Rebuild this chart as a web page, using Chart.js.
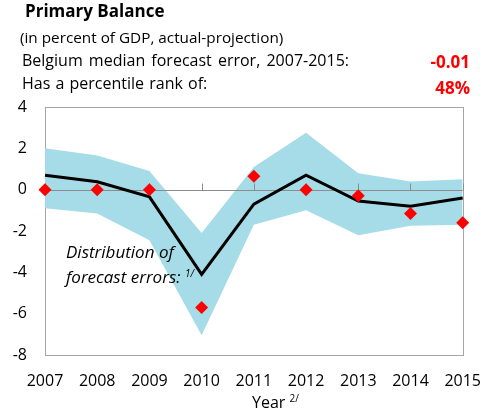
<!DOCTYPE html>
<html>
<head>
<meta charset="utf-8">
<script src="https://cdn.jsdelivr.net/npm/chart.js@4.4.0/dist/chart.umd.min.js"></script>
<style>
body { margin: 0; background: #fff; font-family: "Open Sans", sans-serif; }
#wrap { position: relative; width: 498px; height: 414px; }
canvas { position: absolute; left: 0; top: 0; }
.t { position: absolute; white-space: nowrap; color: #000; line-height: 1; }
.red { color: #ff0000; font-weight: bold; }
sup { font-size: 10px; vertical-align: 6px; }
</style>
</head>
<body>
<div id="wrap">
  <canvas id="chart" width="498" height="414"></canvas>
  <div class="t" style="left:25px;top:2px;font-size:17px;font-weight:bold">Primary Balance</div>
  <div class="t" style="left:20px;top:30px;font-size:15.3px">(in percent of GDP, actual-projection)</div>
  <div class="t" style="left:22px;top:52px;font-size:16px;word-spacing:2px">Belgium median forecast error, 2007-2015:</div>
  <div class="t red" style="right:28px;top:53px;font-size:17px">-0.01</div>
  <div class="t" style="left:22px;top:75px;font-size:16px;word-spacing:1px">Has a percentile rank of:</div>
  <div class="t red" style="right:28px;top:79px;font-size:17px">48%</div>
  <div class="t" style="left:66px;top:243px;font-size:17px;font-style:italic">Distribution of</div>
  <div class="t" style="left:66px;top:268px;font-size:17px;font-style:italic">forecast errors: <sup>1/</sup></div>
  <div class="t" style="left:252px;top:393px;font-size:16px">Year <sup>2/</sup></div>
</div>
<script>
// Belgium primary balance forecast errors
const years = ['2007', '2008', '2009', '2010', '2011', '2012', '2013', '2014', '2015'];
const bandHigh = [2.0, 1.65, 0.9, -2.1, 1.1, 2.75, 0.8, 0.4, 0.5];
const bandLow = [-0.9, -1.15, -2.45, -7.05, -1.7, -1.0, -2.2, -1.75, -1.7];
const median = [0.7, 0.38, -0.35, -4.1, -0.7, 0.7, -0.55, -0.8, -0.4];
const actual = [0, 0, 0, -5.7, 0.65, 0, -0.3, -1.15, -1.6];
const yMin = -8, yMax = 4, yStep = 2;

// frame round the plot + zero line with tick marks
const frame = {
  id: 'frame',
  beforeDatasetsDraw(chart) {
    const { ctx, chartArea: a } = chart;
    ctx.save();
    ctx.strokeStyle = '#a6a6a6';
    ctx.lineWidth = 1;
    ctx.strokeRect(Math.round(a.left) + 0.5, Math.round(a.top) + 0.5, Math.round(a.right - a.left), Math.round(a.bottom - a.top));
    ctx.restore();
  },
  afterDatasetDraw(chart, args) {
    if (args.index !== 1) return;
    const { ctx, chartArea: a, scales: { x, y } } = chart;
    const y0 = Math.round(y.getPixelForValue(0)) + 0.5;
    ctx.save();
    ctx.strokeStyle = '#8c8c8c';
    ctx.lineWidth = 1;
    ctx.beginPath();
    ctx.moveTo(a.left, y0);
    ctx.lineTo(a.right, y0);
    years.forEach((_, i) => {
      const px = Math.round(x.getPixelForValue(i)) + 0.5;
      ctx.moveTo(px, y0);
      ctx.lineTo(px, y0 - 7);
    });
    ctx.stroke();
    ctx.restore();
  }
};

const ctx = document.getElementById('chart');
const chart = new Chart(ctx, {
  type: 'line',
  data: {
    labels: years,
    datasets: [
      { data: bandLow, borderWidth: 0, pointRadius: 0, fill: false, order: 4 },
      { data: bandHigh, borderWidth: 0, pointRadius: 0, fill: '-1', backgroundColor: '#a5dce7', order: 3 },
      { data: median, borderColor: '#000', borderWidth: 3, pointRadius: 0, tension: 0, fill: false, order: 1 },
      { data: actual, showLine: false, pointStyle: 'rectRot', pointRadius: 6.5, backgroundColor: '#ff0000', borderWidth: 0, order: 0 }
    ]
  },
  options: {
    responsive: false,
    animation: false,
    layout: { padding: { top: 107, right: 20, left: 0, bottom: 0 } },
    plugins: { legend: { display: false }, tooltip: { enabled: false } },
    scales: {
      x: {
        offset: false,
        grid: { display: false, drawTicks: false },
        border: { display: false },
        ticks: { color: '#000', padding: 17, maxRotation: 0, font: { family: 'Open Sans', size: 16 } },
        afterFit: s => { s.height = 59; }
      },
      y: {
        min: yMin, max: yMax,
        grid: { display: false, drawTicks: false },
        border: { display: false },
        ticks: { stepSize: yStep, color: '#000', padding: 18, font: { family: 'Open Sans', size: 16 } },
        afterFit: s => { s.width = 45; }
      }
    }
  },
  plugins: [frame]
});
</script>
</body>
</html>
